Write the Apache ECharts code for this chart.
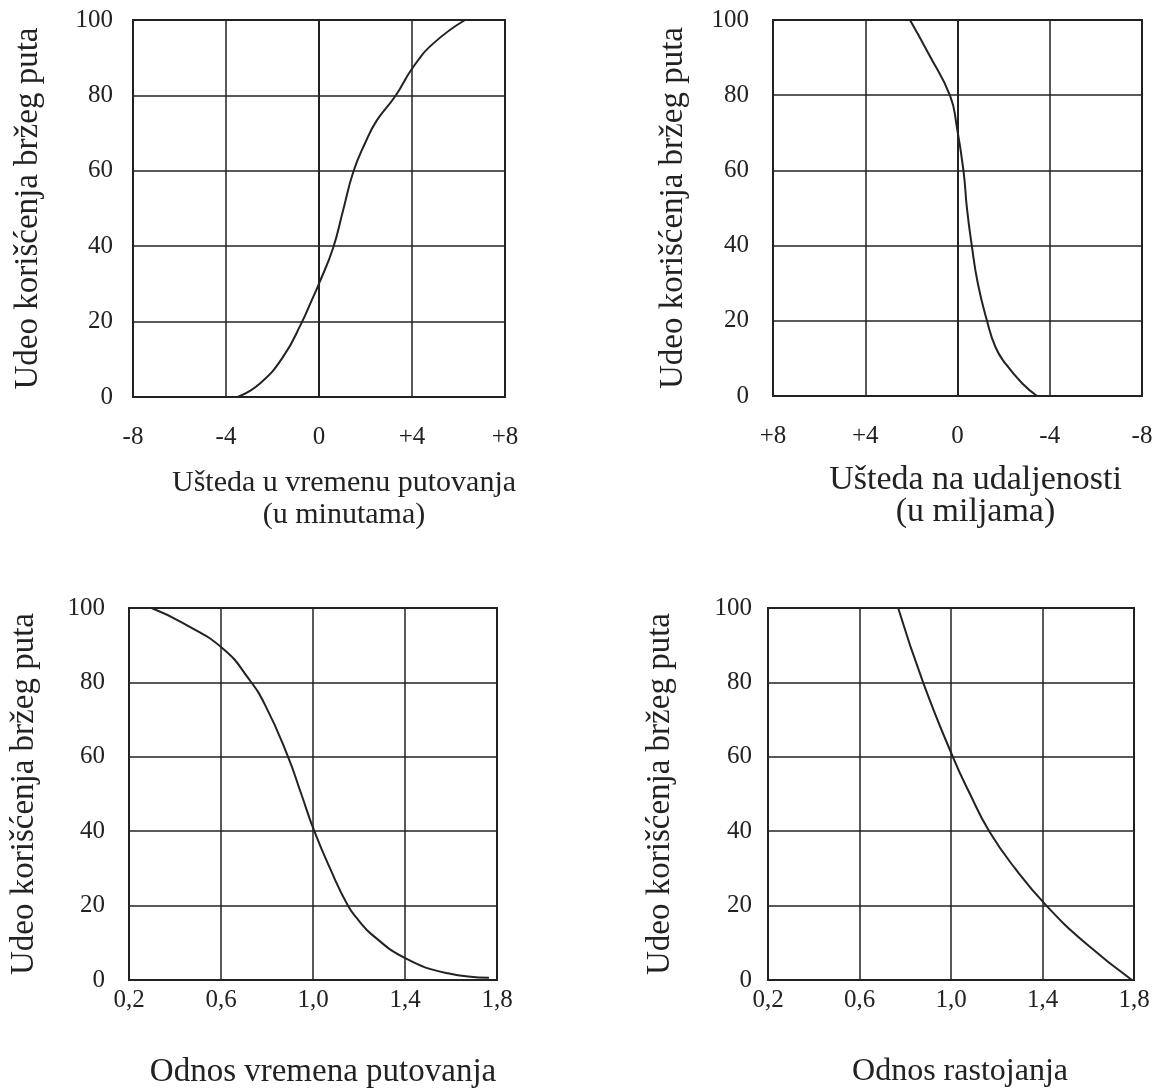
<!DOCTYPE html>
<html>
<head>
<meta charset="utf-8">
<title>Udeo korišćenja bržeg puta</title>
<script src="https://cdn.jsdelivr.net/npm/echarts@6/dist/echarts.min.js"></script>
<style>
  html, body { margin: 0; padding: 0; background: #fff; }
  #chart { width: 1160px; height: 1091px; }
</style>
</head>
<body>
<div id="chart"></div>
<script>
// values
const timeSaving = [-3.5, -2.54, -1.54, -0.74, -0.31, 0.01, 0.61, 1.04, 1.47, 1.98, 2.48, 3.27, 4.06, 4.92, 6.28];
const timeShare = [0, 3.6, 10.7, 19.8, 25.7, 30.2, 39.6, 49.6, 59.6, 67.3, 73.3, 79.7, 87.6, 93.8, 100];

const distSaving = [2.06, 1.26, 0.32, 0.03, -0.26, -0.41, -0.62, -0.88, -1.27, -1.64, -2.07, -2.8, -3.45];
const distShare = [100, 91.1, 79.8, 71.6, 59.9, 49.9, 40, 30, 20.2, 13.1, 8.7, 3.4, 0];

const timeRatio = [0.298, 0.433, 0.61, 0.72, 0.792, 0.889, 0.949, 1.004, 1.077, 1.151, 1.2, 1.256, 1.403, 1.586, 1.765];
const timeRatioShare = [100, 96, 89, 81, 73.9, 60.4, 50, 40.3, 29.6, 20.1, 15.9, 12.2, 5.8, 1.8, 0.6];

const distRatio = [0.769, 0.878, 1.008, 1.083, 1.167, 1.28, 1.417, 1.586, 1.791];
const distRatioShare = [100, 80, 60, 50, 40, 30, 20, 10, 0];

const savingTicks = [-8, -4, 0, 4, 8];
const ratioTicks = [0.2, 0.6, 1.0, 1.4, 1.8];
const shareTicks = [0, 20, 40, 60, 80, 100];

const yName = 'Udeo korišćenja bržeg puta';

const FONT = "'Liberation Serif', 'DejaVu Serif', serif";
const INK = '#222';

function pairs(xs, ys) {
  return xs.map((x, i) => [x, ys[i]]);
}

function signed(v) {
  return v > 0 ? '+' + v : String(v);
}

function comma(v) {
  return v.toFixed(1).replace('.', ',');
}

function xAxis(gridIndex, ticks, fmt, margin, extra) {
  return Object.assign({
    gridIndex: gridIndex,
    type: 'value',
    min: ticks[0],
    max: ticks[ticks.length - 1],
    interval: ticks[1] - ticks[0],
    nameLocation: 'middle',
    axisTick: { show: false },
    axisLine: { show: true, lineStyle: { color: INK, width: 2 } },
    splitLine: { show: true, lineStyle: { color: INK, width: 1.5 } },
    axisLabel: { formatter: fmt, color: INK, fontFamily: FONT, fontSize: 25, margin: margin }
  }, extra);
}

function yAxis(gridIndex, nameGap, labelMargin) {
  return {
    gridIndex: gridIndex,
    type: 'value',
    min: shareTicks[0],
    max: shareTicks[shareTicks.length - 1],
    interval: shareTicks[1] - shareTicks[0],
    name: yName,
    nameLocation: 'middle',
    nameGap: nameGap,
    nameTextStyle: { color: INK, fontFamily: FONT, fontSize: 33 },
    axisTick: { show: false },
    axisLine: { show: true, lineStyle: { color: INK, width: 2 } },
    splitLine: { show: true, lineStyle: { color: INK, width: 1.5 } },
    axisLabel: { color: INK, fontFamily: FONT, fontSize: 25, margin: labelMargin }
  };
}

function nameStyle(size, padLeft, lineHeight) {
  return { color: INK, fontFamily: FONT, fontSize: size, lineHeight: lineHeight, padding: [0, 0, 0, padLeft] };
}

function curve(index, data) {
  return {
    type: 'line',
    xAxisIndex: index,
    yAxisIndex: index,
    data: data,
    smooth: true,
    symbol: 'none',
    silent: true,
    lineStyle: { color: INK, width: 2 }
  };
}

const chart = echarts.init(document.getElementById('chart'));

const gridBox = { show: true, borderColor: INK, borderWidth: 2, backgroundColor: 'transparent' };

chart.setOption({
  backgroundColor: '#fff',
  animation: false,
  grid: [
    Object.assign({ left: 133, top: 20, width: 372, height: 377 }, gridBox),
    Object.assign({ left: 773, top: 20, width: 369, height: 376 }, gridBox),
    Object.assign({ left: 129, top: 608, width: 368, height: 376 }, gridBox),
    Object.assign({ left: 768, top: 608, width: 366, height: 375 }, gridBox)
  ],
  xAxis: [
    xAxis(0, savingTicks, signed, 28, {
      name: 'Ušteda u vremenu putovanja\n(u minutama)',
      nameGap: 70,
      nameTextStyle: nameStyle(30, 50, 32)
    }),
    xAxis(1, savingTicks, signed, 28, {
      inverse: true,
      name: 'Ušteda na udaljenosti\n(u miljama)',
      nameGap: 68,
      nameTextStyle: nameStyle(34, 36, 32)
    }),
    xAxis(2, ratioTicks, comma, 8, {
      name: 'Odnos vremena putovanja',
      nameGap: 74,
      nameTextStyle: nameStyle(33, 20, 36)
    }),
    xAxis(3, ratioTicks, comma, 8, {
      name: 'Odnos rastojanja',
      nameGap: 74,
      nameTextStyle: nameStyle(32, 18, 36)
    })
  ],
  yAxis: [
    yAxis(0, 88, 20),
    yAxis(1, 83, 24),
    yAxis(2, 88, 24),
    yAxis(3, 91, 16)
  ],
  series: [
    curve(0, pairs(timeSaving, timeShare)),
    curve(1, pairs(distSaving, distShare)),
    curve(2, pairs(timeRatio, timeRatioShare)),
    curve(3, pairs(distRatio, distRatioShare))
  ]
});
</script>
</body>
</html>
